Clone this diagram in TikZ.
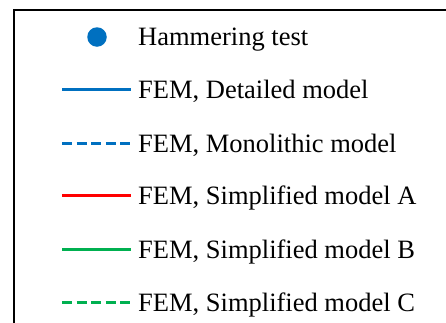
\documentclass[tikz,border=0pt]{standalone}
\usepackage{fontspec}
\setmainfont{Liberation Serif}
\definecolor{fembl}{RGB}{0,112,192}
\definecolor{femrd}{RGB}{255,0,0}
\definecolor{femgn}{RGB}{0,176,80}

\begin{document}
\begin{tikzpicture}[x=1pt,y=-1pt,
	legline/.style={line width=3pt},
	legdash/.style={line width=3pt,dash pattern=on 10pt off 4.6pt},
	legtext/.style={anchor=base west,inner sep=0pt,font=\fontsize{26.5}{30}\selectfont}]
	\def\xa{62}	%start of sample lines
	\def\xb{131}	%end of sample lines
	\def\xt{138}	%left of texts
	
	%FRAME
	\useasboundingbox (0,0) rectangle (446,322);
	\clip (0,0) rectangle (446,322);
	\draw[line width=2pt] (470,10)--(14,10)--(14,340);
	
	%HAMMERING TEST
	\node[circle,fill=fembl,inner sep=0pt,minimum size=19.5pt] (ham) at (97,37) {};
	\node[legtext] (hamtxt) at (\xt,45.5) {Hammering test};
	
	%FEM LINES
	\coordinate (det1) at (\xa,89);	\coordinate (det2) at (\xb,89);
	\coordinate (mon1) at (\xa,143);	\coordinate (mon2) at (\xb,143);
	\coordinate (sa1) at (\xa,195);	\coordinate (sa2) at (\xb,195);
	\coordinate (sb1) at (\xa,249);	\coordinate (sb2) at (\xb,249);
	\coordinate (sc1) at (\xa,302);	\coordinate (sc2) at (\xb,302);
	%
	\draw[legline,fembl] (det1)--(det2);
	\draw[legdash,fembl] (mon1)--(mon2);
	\draw[legline,femrd] (sa1)--(sa2);
	\draw[legline,femgn] (sb1)--(sb2);
	\draw[legdash,femgn] (sc1)--(sc2);
	
	%LABELS
	\node[legtext] (dettxt) at (\xt,98) {FEM, Detailed model};
	\node[legtext] (montxt) at (\xt,152) {FEM, Monolithic model};
	\node[legtext] (satxt) at (\xt,204) {FEM, Simplified model A};
	\node[legtext] (sbtxt) at (\xt,258) {FEM, Simplified model B};
	\node[legtext] (sctxt) at (\xt,311) {FEM, Simplified model C};
\end{tikzpicture}
\end{document}
